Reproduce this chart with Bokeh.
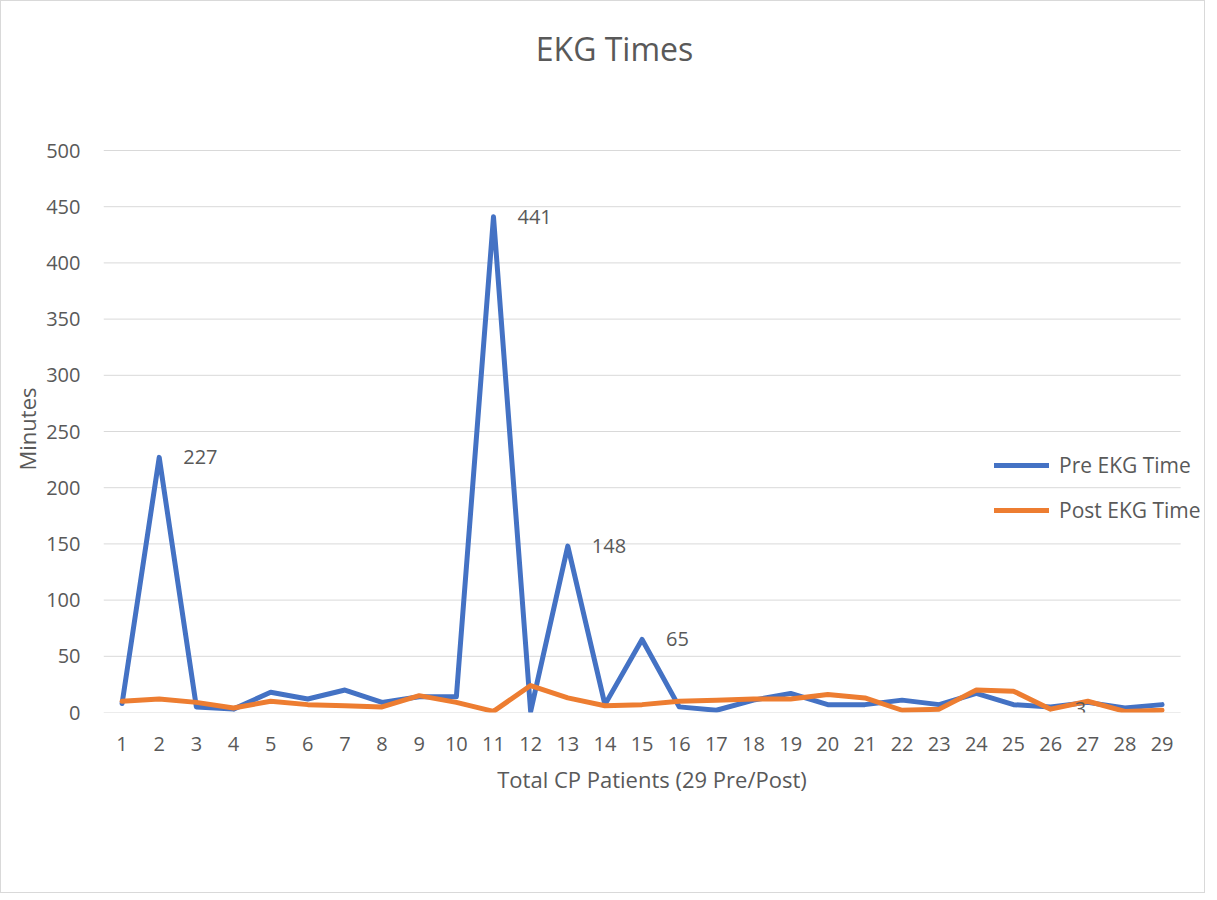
from bokeh.plotting import figure
from bokeh.models import Range1d, FixedTicker, Legend, LegendItem, ColumnDataSource, Title
from bokeh.core.properties import value
from bokeh.embed import file_html
from bokeh.resources import INLINE

patients = list(range(1, 30))
pre_ekg = [8, 227, 5, 3, 18, 12, 20, 9, 14, 14, 441, 1, 148, 7, 65, 5, 2, 11, 17, 7,
           7, 11, 7, 17, 7, 5, 9, 4, 7]
post_ekg = [10, 12, 9, 4, 10, 7, 6, 5, 15, 9, 1, 24, 13, 6, 7, 10, 11, 12, 12, 16,
            13, 2, 3, 20, 19, 3, 10, 1, 2]
y_ticks = [0, 50, 100, 150, 200, 250, 300, 350, 400, 450, 500]
pre_labeled = [2, 11, 13, 15]
post_labeled = [26]
title_text = "EKG Times"
x_title = "Total CP Patients (29 Pre/Post)"
y_title = "Minutes"

FONT = "Open Sans"
GREY = "#595959"
BLUE = "#4472C4"
ORANGE = "#ED7D31"
GRID = "#d9d9d9"

# layout (pixels)
W, H = 1205, 893
B_LEFT, B_RIGHT, B_TOP, B_BOTTOM = 102, 6, 0, 182
frame_w = W - B_LEFT - B_RIGHT
frame_h = H - B_TOP - B_BOTTOM
px_per_cat = 1040 / 28          # spacing of categories
plot_h = 562                    # pixel height of the 0..500 value span
x_lo, x_hi = 0.5, 29.5
y_lo, y_hi = 0, 500
# the frame extends beyond the plot area (right for the legend, top for the title)
x_end = x_lo + frame_w / px_per_cat
y_end = y_hi * frame_h / plot_h
px_per_val = plot_h / (y_hi - y_lo)
# title position, converted from pixels into the frame's coordinates
title_x = x_lo + (614 - (B_LEFT + 1)) / px_per_cat
title_y = (frame_h - 47) / px_per_val

p = figure(width=W, height=H, output_backend="svg", toolbar_location=None,
           x_range=Range1d(x_lo, x_end), y_range=Range1d(y_lo, y_end),
           min_border_left=B_LEFT, min_border_right=B_RIGHT,
           min_border_top=B_TOP, min_border_bottom=B_BOTTOM,
           styles={"border": "1px solid #d9d9d9"})
p.outline_line_color = None
p.background_fill_color = "white"
p.border_fill_color = "white"

# axes
p.xaxis.ticker = FixedTicker(ticks=patients)
p.yaxis.ticker = FixedTicker(ticks=y_ticks)
for ax in (p.xaxis, p.yaxis):
    ax.major_tick_line_color = None
    ax.minor_tick_line_color = None
    ax.axis_line_color = None
    ax.major_label_text_font = FONT
    ax.major_label_text_font_size = "20px"
    ax.major_label_text_color = GREY
    ax.axis_label_text_font = FONT
    ax.axis_label_text_font_size = "22px"
    ax.axis_label_text_color = GREY
    ax.axis_label_text_font_style = "normal"
p.xaxis.major_label_standoff = 18
p.yaxis.major_label_standoff = 17
p.xaxis.axis_label = x_title
p.xaxis.axis_label_standoff = 10

# vertical axis title, centred on the 0..500 plot area rather than the whole frame
y_t = Title(text=y_title, align="left", offset=242, text_font=FONT,
            text_font_size="22px", text_color=GREY, text_font_style="normal", standoff=4)
p.add_layout(y_t, "left")

p.xgrid.grid_line_color = None
p.ygrid.grid_line_color = None

# horizontal gridlines limited to the plot area
p.segment(x0=[x_lo] * len(y_ticks), x1=[x_hi] * len(y_ticks), y0=y_ticks, y1=y_ticks,
          line_color=GRID, line_width=1)

# chart title
p.text(x=[title_x], y=[title_y], text=[title_text], text_align="center",
       text_baseline="middle", text_font=value(FONT), text_font_size="32px",
       text_color=GREY)

src = ColumnDataSource(dict(x=patients, pre=pre_ekg, post=post_ekg))
r_pre = p.line("x", "pre", source=src, line_color=BLUE, line_width=5,
               line_join="round", line_cap="round")
r_post = p.line("x", "post", source=src, line_color=ORANGE, line_width=5,
                line_join="round", line_cap="round")

# data labels
lab_x = pre_labeled + post_labeled
lab_y = [pre_ekg[i - 1] for i in pre_labeled] + [post_ekg[i - 1] for i in post_labeled]
lab_t = [str(v) for v in lab_y]
p.text(x=lab_x, y=lab_y, text=lab_t, x_offset=24, text_baseline="middle",
       text_align="left", text_font=value(FONT), text_font_size="20px", text_color=GREY)

legend = Legend(items=[LegendItem(label="Pre EKG Time", renderers=[r_pre]),
                       LegendItem(label="Post EKG Time", renderers=[r_post])],
                location=(891, 188), orientation="vertical",
                glyph_width=55, glyph_height=20, label_height=20, spacing=17,
                label_standoff=10, padding=0, margin=0,
                border_line_color=None, background_fill_alpha=0,
                label_text_font=FONT, label_text_font_size="21px", label_text_color=GREY)
p.add_layout(legend, "center")

open("out.html", "w").write(file_html(p, INLINE))
